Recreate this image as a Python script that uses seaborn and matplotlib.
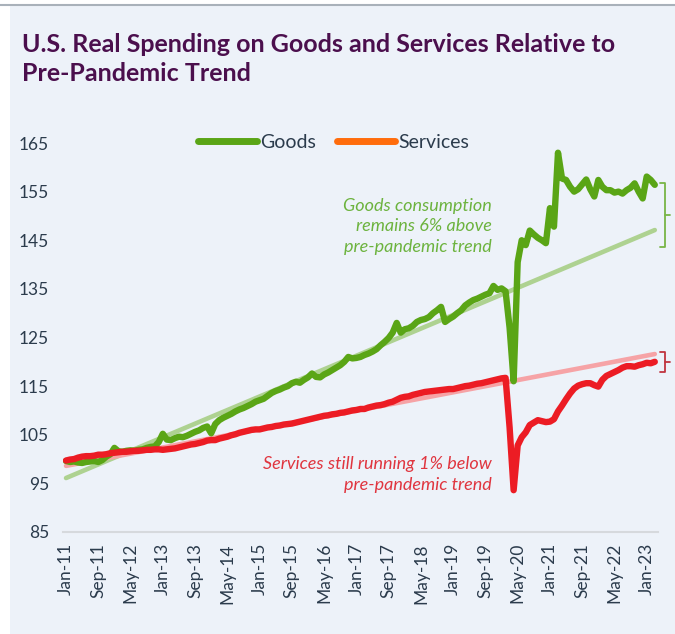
import numpy as np
import pandas as pd
import seaborn as sns
import matplotlib.pyplot as plt
from matplotlib.lines import Line2D
from matplotlib.patches import Rectangle

sns.set_theme(style='white')
plt.rcParams['font.family'] = ['Lato', 'DejaVu Sans']

# monthly index, Jan-2011 .. Mar-2023 (Jan-2011 = 100-ish)
goods = [
    99.6, 99.4, 99.5, 99.3, 99.2, 99.4, 99.5, 99.6, 99.4, 99.8, 100.5, 101.0,        # 2011
    102.3, 101.6, 101.5, 101.7, 101.8, 101.7, 101.9, 102.0, 102.3, 102.5, 102.6, 103.5,  # 2012
    105.2, 104.0, 103.9, 104.3, 104.6, 104.5, 104.8, 105.2, 105.6, 105.9, 106.4, 106.7,  # 2013
    105.3, 107.2, 108.0, 108.5, 108.9, 109.3, 109.8, 110.2, 110.5, 110.9, 111.3, 111.8,  # 2014
    112.1, 112.4, 113.0, 113.6, 114.0, 114.3, 114.7, 115.0, 115.6, 115.9, 115.7, 116.3,  # 2015
    116.8, 117.6, 116.9, 116.8, 117.4, 117.8, 118.3, 118.8, 119.3, 120.0, 121.0, 120.7,  # 2016
    120.8, 121.0, 121.4, 121.7, 122.1, 122.6, 123.4, 124.1, 124.9, 126.0, 128.0, 126.0,  # 2017
    126.7, 126.9, 127.4, 128.2, 128.6, 128.8, 129.2, 130.0, 130.6, 131.3, 128.2, 128.8,  # 2018
    129.3, 130.0, 130.6, 131.6, 132.2, 132.7, 133.0, 133.4, 133.8, 134.1, 135.6, 134.8,  # 2019
    135.1, 134.5, 127.0, 116.0, 140.5, 145.0, 144.0, 147.0, 146.2, 145.5, 145.0, 144.4,  # 2020
    151.6, 147.8, 163.0, 157.7, 157.4, 156.0, 155.0, 155.5, 156.5, 157.5, 155.5, 154.0,  # 2021
    157.4, 156.0, 155.3, 155.3, 154.8, 155.0, 154.6, 155.3, 155.8, 156.7, 155.0, 153.6,  # 2022
    158.1, 157.4, 156.4,                                                                 # 2023
]
services = [
    99.7, 99.9, 100.0, 100.3, 100.5, 100.6, 100.6, 100.7, 100.9, 100.9, 101.0, 101.2,
    101.3, 101.4, 101.5, 101.5, 101.6, 101.7, 101.7, 101.8, 101.9, 101.9, 102.0, 102.0,
    101.9, 102.0, 102.1, 102.2, 102.4, 102.6, 102.8, 103.0, 103.1, 103.3, 103.5, 103.8,
    103.9, 103.9, 104.2, 104.4, 104.6, 104.9, 105.1, 105.4, 105.6, 105.8, 106.0, 106.1,
    106.1, 106.3, 106.5, 106.6, 106.8, 106.9, 107.1, 107.2, 107.3, 107.5, 107.7, 107.9,
    108.1, 108.3, 108.5, 108.7, 108.9, 109.0, 109.2, 109.3, 109.5, 109.6, 109.8, 110.0,
    110.1, 110.3, 110.3, 110.6, 110.8, 111.0, 111.1, 111.3, 111.6, 111.8, 112.2, 112.6,
    112.8, 112.9, 113.2, 113.4, 113.6, 113.8, 113.9, 114.0, 114.1, 114.2, 114.3, 114.4,
    114.4, 114.6, 114.8, 115.0, 115.1, 115.3, 115.5, 115.6, 115.8, 116.0, 116.2, 116.4,
    116.6, 116.7, 106.5, 93.6, 102.8, 104.5, 105.5, 107.0, 107.5, 108.0, 107.8, 107.6,
    107.7, 108.2, 109.8, 111.0, 112.3, 113.5, 114.5, 115.1, 115.4, 115.6, 115.6, 115.2,
    114.9, 116.3, 117.1, 117.5, 117.9, 118.3, 118.8, 119.1, 119.1, 119.0, 119.3, 119.5,
    119.8, 119.7, 120.0,
]
# pre-pandemic trend lines: value at first and last month
goods_trend = [96.1, 147.1]
services_trend = [98.6, 121.6]

months = pd.date_range('2011-01-01', periods=len(goods), freq='MS')
tick_every = 8
tick_labels = [d.strftime('%b-%y') for d in months[::tick_every]]

df = pd.DataFrame({'m': np.arange(len(goods)), 'Goods': goods, 'Services': services})
trend = pd.DataFrame({'m': [0, len(goods) - 1],
                      'gt': goods_trend, 'st': services_trend})

GREEN = '#5aa516'
GREEN_LT = '#aed291'
RED = '#ec1c24'
PINK = '#f6a3a6'
ORANGE = '#ff6c0c'
TXT = '#2b3b4c'
BG = '#edf2f9'

fig = plt.figure(figsize=(6.75, 6.34), dpi=100)
fig.patch.set_facecolor('white')
fig.patches.append(Rectangle((10 / 675, 0), 1, 1 - 6 / 634, transform=fig.transFigure,
                             facecolor=BG, edgecolor='none', zorder=-2))
fig.lines.append(Line2D([0, 1], [1 - 5 / 634] * 2, transform=fig.transFigure,
                        color='#a9b1ba', lw=1.5))

ax = fig.add_axes([63 / 675, 102 / 634, 595 / 675, 413.3 / 634])
ax.set_facecolor(BG)

sns.lineplot(data=trend, x='m', y='gt', ax=ax, color=GREEN_LT, lw=3.3, zorder=2)
sns.lineplot(data=trend, x='m', y='st', ax=ax, color=PINK, lw=3.3, zorder=3)
sns.lineplot(data=df, x='m', y='Goods', ax=ax, color=GREEN, lw=4.6, zorder=4,
             solid_joinstyle='round', solid_capstyle='round')
sns.lineplot(data=df, x='m', y='Services', ax=ax, color=RED, lw=4.6, zorder=5,
             solid_joinstyle='round', solid_capstyle='round')

ax.set_xlim(-0.75, len(goods) - 0.2)
ax.set_ylim(85, 170)
ax.set_yticks(range(85, 166, 10))
ax.set_xticks(df['m'][::tick_every])
ax.set_xticklabels(tick_labels, rotation=90)
ax.tick_params(axis='both', length=0, labelsize=12.5, colors=TXT)
ax.tick_params(axis='x', pad=8)
ax.tick_params(axis='y', pad=10)
ax.set_xlabel('')
ax.set_ylabel('')
for s in ['top', 'right', 'left']:
    ax.spines[s].set_visible(False)
ax.spines['bottom'].set_color('#d6d9dd')
ax.spines['bottom'].set_linewidth(1.5)
ax.grid(False)

handles = [Line2D([], [], color=GREEN, lw=5, solid_capstyle='round'),
           Line2D([], [], color=ORANGE, lw=5, solid_capstyle='round')]
ax.legend(handles, ['Goods', 'Services'], loc='upper center',
          bbox_to_anchor=(0.455, 0.99), ncol=2, frameon=False, fontsize=14,
          handlelength=3.0, handletextpad=0.15, columnspacing=1.1,
          labelcolor=TXT, borderaxespad=0.15)

ax.text(0.72, 0.74, 'Goods consumption\nremains 6% above\npre-pandemic trend',
        transform=ax.transAxes, ha='right', va='center', fontsize=13,
        style='italic', color='#6cb33e', linespacing=1.35)
ax.text(0.72, 0.139, 'Services still running 1% below\npre-pandemic trend',
        transform=ax.transAxes, ha='right', va='center', fontsize=13,
        style='italic', color='#e0353f', linespacing=1.35)

# brackets marking the gap to trend at the latest month
def bracket(y0, y1, color):
    x0, x1, x2 = 147.3, 148.5, 149.8
    ym = (y0 + y1) / 2
    ax.plot([x0, x1, x1, x0], [y0, y0, y1, y1], color=color, lw=1.3, clip_on=False)
    ax.plot([x1, x2], [ym, ym], color=color, lw=1.3, clip_on=False)

bracket(156.8, 143.6, '#78b546')
bracket(122.0, 117.9, '#c0353f')

fig.text(22 / 675, 1 - 33 / 634,
         'U.S. Real Spending on Goods and Services Relative to\nPre-Pandemic Trend',
         ha='left', va='top', fontsize=18, fontweight='bold', color='#4b0f4d',
         linespacing=1.3)

fig.savefig('out.png', dpi=100, facecolor=fig.get_facecolor())
